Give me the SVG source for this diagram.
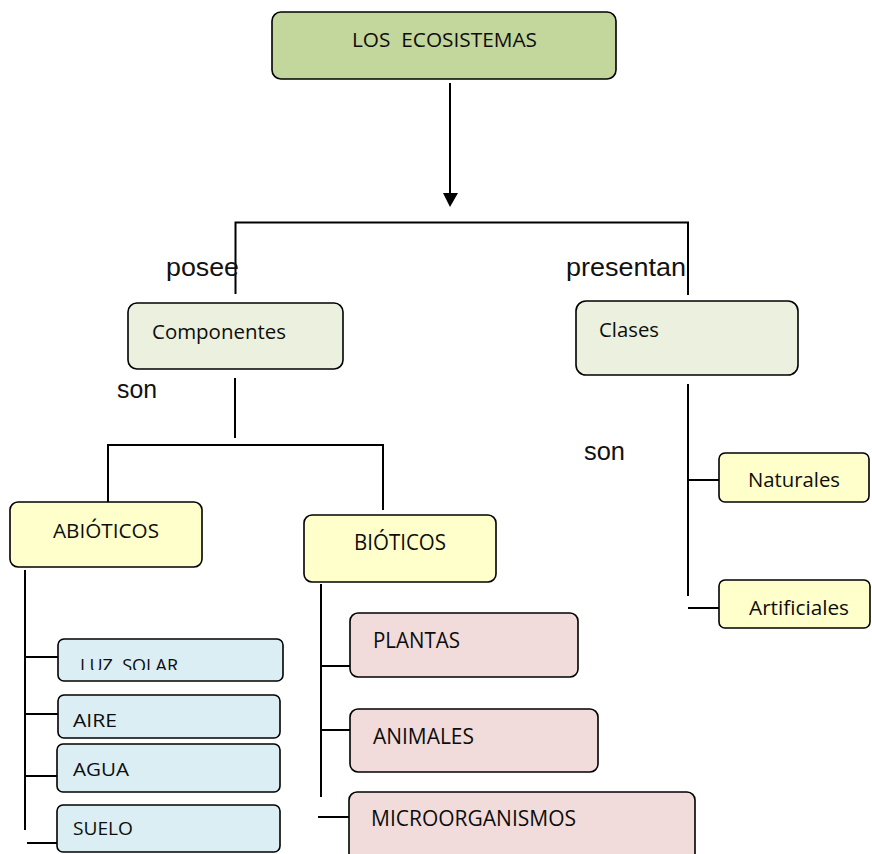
<svg xmlns="http://www.w3.org/2000/svg" width="872" height="854" viewBox="0 0 872 854">
  <style>
    .box { stroke: #000; stroke-width: 1.6; }
    .top { fill: #c3d69b; }
    .mid { fill: #ebf1de; }
    .yel { fill: #ffffcc; }
    .blu { fill: #dbeef3; }
    .pnk { fill: #f2dcdb; }
    .t { font-family: "Open Sans", "Liberation Sans", sans-serif; fill: #0d0d0d; }
    .lbl { font-family: "Liberation Sans", Arial, sans-serif; font-size: 25px; fill: #111; }
    .ln { stroke: #000; stroke-width: 2; fill: none; }
  </style>
  <defs>
    <clipPath id="luzClip"><rect x="0" y="0" width="872" height="670"/></clipPath>
  </defs>
  <rect width="872" height="854" fill="#fff"/>

  <!-- connectors -->
  <g id="connectors">
    <line class="ln" x1="450" y1="83" x2="450" y2="194"/>
    <polygon points="443,193 458,193 450,207" fill="#000"/>
    <polyline class="ln" points="235.5,294 235.5,222.5 688,222.5 688,295"/>
    <line class="ln" x1="235" y1="378" x2="235" y2="438"/>
    <polyline class="ln" points="108,505 108,445 383,445 383,510"/>
    <line class="ln" x1="25" y1="570" x2="25" y2="830"/>
    <line class="ln" x1="25" y1="657" x2="58" y2="657"/>
    <line class="ln" x1="25" y1="714" x2="58" y2="714"/>
    <line class="ln" x1="25" y1="776" x2="58" y2="776"/>
    <line class="ln" x1="27" y1="843" x2="57" y2="843"/>
    <line class="ln" x1="321" y1="584" x2="321" y2="797"/>
    <line class="ln" x1="321" y1="666" x2="350" y2="666"/>
    <line class="ln" x1="321" y1="730" x2="350" y2="730"/>
    <line class="ln" x1="318" y1="817" x2="349" y2="817"/>
    <line class="ln" x1="688" y1="384" x2="688" y2="596"/>
    <line class="ln" x1="688" y1="480" x2="719" y2="480"/>
    <line class="ln" x1="688" y1="608" x2="719" y2="608"/>
  </g>

  <!-- connector labels -->
  <g id="labels">
    <text class="lbl" x="166" y="276" textLength="73" lengthAdjust="spacingAndGlyphs">posee</text>
    <text class="lbl" x="566" y="276" textLength="120" lengthAdjust="spacingAndGlyphs">presentan</text>
    <text class="lbl" x="117" y="398" textLength="40" lengthAdjust="spacingAndGlyphs">son</text>
    <text class="lbl" x="584" y="460" textLength="41" lengthAdjust="spacingAndGlyphs">son</text>
  </g>

  <g id="ecosistemas">
    <rect class="box top" x="272" y="12" width="344" height="67" rx="9"/>
    <text class="t" x="352" y="47" font-size="19.5" textLength="185" lengthAdjust="spacingAndGlyphs" xml:space="preserve">LOS  ECOSISTEMAS</text>
  </g>

  <g id="componentes">
    <rect class="box mid" x="128" y="303" width="215" height="66" rx="9"/>
    <text class="t" x="152" y="339" font-size="20" textLength="134" lengthAdjust="spacingAndGlyphs">Componentes</text>
  </g>

  <g id="clases">
    <rect class="box mid" x="576" y="301" width="222" height="74" rx="10"/>
    <text class="t" x="599" y="337" font-size="20" textLength="60" lengthAdjust="spacingAndGlyphs">Clases</text>
  </g>

  <g id="abioticos">
    <rect class="box yel" x="10" y="502" width="192" height="65" rx="8"/>
    <text class="t" x="53" y="538" font-size="20.5" textLength="106" lengthAdjust="spacingAndGlyphs">ABIÓTICOS</text>
  </g>

  <g id="bioticos">
    <rect class="box yel" x="304" y="515" width="192" height="67" rx="8"/>
    <text class="t" x="354" y="550" font-size="21" textLength="92" lengthAdjust="spacingAndGlyphs">BIÓTICOS</text>
  </g>

  <g id="naturales">
    <rect class="box yel" x="719" y="453" width="150" height="49" rx="6"/>
    <text class="t" x="748" y="487" font-size="20" textLength="92" lengthAdjust="spacingAndGlyphs">Naturales</text>
  </g>

  <g id="artificiales">
    <rect class="box yel" x="719" y="580" width="151" height="48" rx="6"/>
    <text class="t" x="749" y="615" font-size="20" textLength="100" lengthAdjust="spacingAndGlyphs">Artificiales</text>
  </g>

  <g id="luz-solar">
    <rect class="box blu" x="58" y="639" width="225" height="42" rx="6"/>
    <text class="t" x="80" y="672" font-size="19" textLength="98" lengthAdjust="spacingAndGlyphs" clip-path="url(#luzClip)" xml:space="preserve">LUZ  SOLAR</text>
  </g>

  <g id="aire">
    <rect class="box blu" x="58" y="695" width="222" height="43" rx="6"/>
    <text class="t" x="73" y="727" font-size="19" textLength="44" lengthAdjust="spacingAndGlyphs">AIRE</text>
  </g>

  <g id="agua">
    <rect class="box blu" x="57" y="744" width="223" height="48" rx="6"/>
    <text class="t" x="73" y="776" font-size="19" textLength="56" lengthAdjust="spacingAndGlyphs">AGUA</text>
  </g>

  <g id="suelo">
    <rect class="box blu" x="57" y="805" width="223" height="47" rx="6"/>
    <text class="t" x="73" y="835" font-size="19" textLength="60" lengthAdjust="spacingAndGlyphs">SUELO</text>
  </g>

  <g id="plantas">
    <rect class="box pnk" x="350" y="613" width="228" height="64" rx="8"/>
    <text class="t" x="373" y="648" font-size="21" textLength="87" lengthAdjust="spacingAndGlyphs">PLANTAS</text>
  </g>

  <g id="animales">
    <rect class="box pnk" x="350" y="709" width="248" height="63" rx="8"/>
    <text class="t" x="373" y="744" font-size="21" textLength="101" lengthAdjust="spacingAndGlyphs">ANIMALES</text>
  </g>

  <g id="microorganismos">
    <rect class="box pnk" x="349" y="792" width="346" height="80" rx="8"/>
    <text class="t" x="371" y="826" font-size="21" textLength="205" lengthAdjust="spacingAndGlyphs">MICROORGANISMOS</text>
  </g>
</svg>
